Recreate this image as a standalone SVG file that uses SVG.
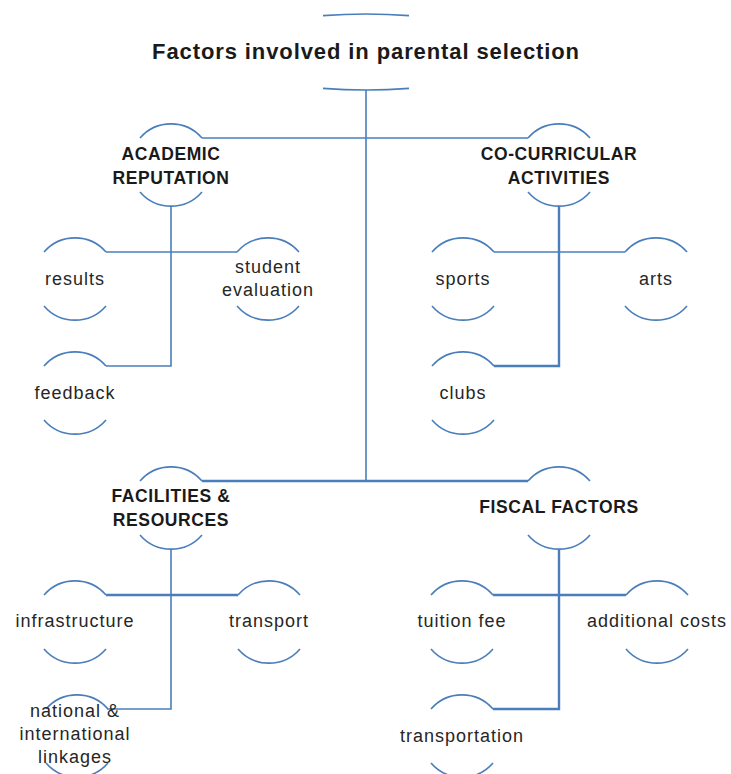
<svg xmlns="http://www.w3.org/2000/svg" width="731" height="774" viewBox="0 0 731 774">
<style>
.arc{fill:none;stroke:#4a7ebb;stroke-width:1.6}
.ln{fill:none;stroke:#4a7ebb;stroke-width:1.6}
.thick{stroke-width:2.4}
.t{font-family:"Liberation Sans",Arial,sans-serif;font-size:18px;letter-spacing:1px;fill:#262626;text-anchor:middle}
.h{font-family:"Liberation Sans",Arial,sans-serif;font-size:17.5px;font-weight:bold;letter-spacing:0.6px;fill:#1a1a1a;text-anchor:middle}
.title{font-family:"Liberation Sans",Arial,sans-serif;font-size:22px;font-weight:bold;letter-spacing:0.9px;fill:#1a1a1a;text-anchor:middle}
</style>
<defs>
<path id="ring" class="arc" d="M -31 -27 A 41 41 0 0 1 31 -27 M -31 27 A 41 41 0 0 0 31 27"/>
</defs>
<g id="connectors">
<path class="ln" d="M366 90 V481"/>
<path class="ln" d="M202 138 H528"/>
<path class="ln" d="M171 206 V366 H106"/>
<path class="ln" d="M106 252 H237"/>
<path class="ln thick" d="M559 206 V366 H494"/>
<path class="ln" d="M494 252 H625"/>
<path class="ln thick" d="M202 481 H528"/>
<path class="ln" d="M171 549 V709 H107"/>
<path class="ln thick" d="M106 595 H238"/>
<path class="ln thick" d="M559 549 V709 H493"/>
<path class="ln thick" d="M493 595 H626"/>
</g>
<g id="title">
<path class="arc" d="M323 15.6 A150 38 0 0 1 409 15.6 M323 88.4 A150 38 0 0 0 409 88.4"/>
<text class="title" x="366" y="59">Factors involved in parental selection</text>
</g>
<g id="academic">
<use href="#ring" x="171" y="165"/>
<text class="h" x="171" y="160">ACADEMIC</text>
<text class="h" x="171" y="184">REPUTATION</text>
</g>
<g id="cocurricular">
<use href="#ring" x="559" y="165"/>
<text class="h" x="559" y="160">CO-CURRICULAR</text>
<text class="h" x="559" y="184">ACTIVITIES</text>
</g>
<g id="results">
<use href="#ring" x="75" y="279"/>
<text class="t" x="75" y="285">results</text>
</g>
<g id="student-evaluation">
<use href="#ring" x="268" y="279"/>
<text class="t" x="268" y="273">student</text>
<text class="t" x="268" y="296">evaluation</text>
</g>
<g id="feedback">
<use href="#ring" x="75" y="393"/>
<text class="t" x="75" y="399">feedback</text>
</g>
<g id="sports">
<use href="#ring" x="463" y="279"/>
<text class="t" x="463" y="285">sports</text>
</g>
<g id="arts">
<use href="#ring" x="656" y="279"/>
<text class="t" x="656" y="285">arts</text>
</g>
<g id="clubs">
<use href="#ring" x="463" y="393"/>
<text class="t" x="463" y="399">clubs</text>
</g>
<g id="facilities">
<use href="#ring" x="171" y="508"/>
<text class="h" x="171" y="502">FACILITIES &amp;</text>
<text class="h" x="171" y="526">RESOURCES</text>
</g>
<g id="fiscal">
<use href="#ring" x="559" y="508"/>
<text class="h" x="559" y="513">FISCAL FACTORS</text>
</g>
<g id="infrastructure">
<use href="#ring" x="75" y="622"/>
<text class="t" x="75" y="627">infrastructure</text>
</g>
<g id="transport">
<use href="#ring" x="269" y="622"/>
<text class="t" x="269" y="627">transport</text>
</g>
<g id="linkages">
<use href="#ring" x="77" y="736"/>
<text class="t" x="75" y="717">national &amp;</text>
<text class="t" x="75" y="740">international</text>
<text class="t" x="75" y="763">linkages</text>
</g>
<g id="tuition">
<use href="#ring" x="462" y="622"/>
<text class="t" x="462" y="627">tuition fee</text>
</g>
<g id="additional">
<use href="#ring" x="657" y="622"/>
<text class="t" x="657" y="627">additional costs</text>
</g>
<g id="transportation">
<use href="#ring" x="462" y="736"/>
<text class="t" x="462" y="742">transportation</text>
</g>
</svg>
